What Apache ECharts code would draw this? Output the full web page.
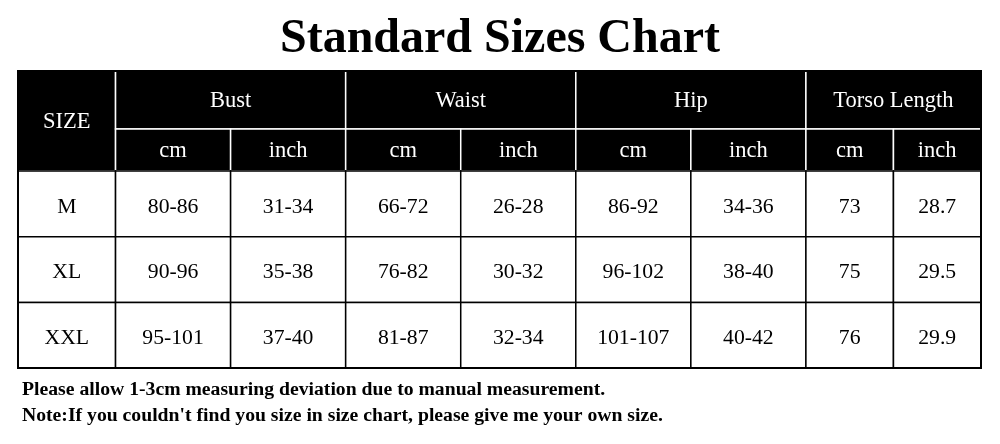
<!DOCTYPE html>
<html>
<head>
<meta charset="utf-8">
<script src="https://cdn.jsdelivr.net/npm/echarts@6/dist/echarts.min.js"></script>
<style>html,body{margin:0;padding:0;background:#fff}#c{width:1000px;height:444px}</style>
</head>
<body>
<div id="c"></div>
<script>
// ---- data ----
const titleText = 'Standard Sizes Chart';
const sizeHeader = 'SIZE';
const groups = ['Bust', 'Waist', 'Hip', 'Torso Length'];
const units = ['cm', 'inch'];
const sizes = ['M', 'XL', 'XXL'];
const bustCm = ['80-86', '90-96', '95-101'];
const bustInch = ['31-34', '35-38', '37-40'];
const waistCm = ['66-72', '76-82', '81-87'];
const waistInch = ['26-28', '30-32', '32-34'];
const hipCm = ['86-92', '96-102', '101-107'];
const hipInch = ['34-36', '38-40', '40-42'];
const torsoCm = ['73', '75', '76'];
const torsoInch = ['28.7', '29.5', '29.9'];
const notes = [
  'Please allow 1-3cm measuring deviation due to manual measurement.',
  "Note:If you couldn't find you size in size chart, please give me your own size."
];

// ---- layout (axis units) ----
const colWidths = [97.5, 115, 115, 115, 115, 115, 115, 87.5, 87.5];
const rowHeights = [58, 42, 65.7, 65.7, 65.6];
const colEdges = [0]; colWidths.forEach(w => colEdges.push(colEdges[colEdges.length - 1] + w));
const rowEdges = [0]; rowHeights.forEach(h => rowEdges.push(rowEdges[rowEdges.length - 1] + h));

const dataCols = [sizes, bustCm, bustInch, waistCm, waistInch, hipCm, hipInch, torsoCm, torsoInch];

// cells: [c0, c1, r0, r1, kind]  kind 0 = header, 1 = body, 2 = border
const cells = [];
const texts = [];
function addCell(c0, c1, r0, r1, kind, text) {
  cells.push([colEdges[c0], colEdges[c1], rowEdges[r0], rowEdges[r1], kind]);
  texts.push(text);
}
addCell(0, 1, 0, 2, 0, sizeHeader);
groups.forEach((g, i) => {
  addCell(1 + i * 2, 3 + i * 2, 0, 1, 0, g);
  units.forEach((u, j) => addCell(1 + i * 2 + j, 2 + i * 2 + j, 1, 2, 0, u));
});
dataCols.forEach((col, ci) => {
  col.forEach((v, ri) => addCell(ci, ci + 1, 2 + ri, 3 + ri, 1, v));
});
addCell(0, colEdges.length - 1, 0, rowEdges.length - 1, 2, '');

const chart = echarts.init(document.getElementById('c'));
chart.setOption({
  animation: false,
  backgroundColor: '#ffffff',
  title: [
    { text: titleText, left: 'center', top: 16, padding: 0,
      textStyle: { fontFamily: 'Liberation Serif', fontWeight: 'bold', fontSize: 48, color: '#000' } },
    { text: notes[0], left: 22, top: 380, padding: 0,
      textStyle: { fontFamily: 'Liberation Serif', fontWeight: 'bold', fontSize: 19.7, color: '#000' } },
    { text: notes[1], left: 22, top: 406, padding: 0,
      textStyle: { fontFamily: 'Liberation Serif', fontWeight: 'bold', fontSize: 19.7, color: '#000' } }
  ],
  grid: { left: 18, right: 19, top: 71, bottom: 76 },
  xAxis: { type: 'value', min: 0, max: colEdges[colEdges.length - 1], show: false },
  yAxis: { type: 'value', min: 0, max: rowEdges[rowEdges.length - 1], inverse: true, show: false },
  series: [{
    type: 'custom',
    silent: true,
    data: cells,
    renderItem: function (params, api) {
      const x0 = api.value(0), x1 = api.value(1), y0 = api.value(2), y1 = api.value(3), kind = api.value(4);
      const p0 = api.coord([x0, y0]);
      const p1 = api.coord([x1, y1]);
      const w = p1[0] - p0[0], h = p1[1] - p0[1];
      if (kind === 2) {
        return { type: 'rect', shape: { x: p0[0], y: p0[1], width: w, height: h },
          style: { fill: 'none', stroke: '#000', lineWidth: 2 } };
      }
      const header = kind === 0;
      return {
        type: 'group',
        children: [
          { type: 'rect', shape: { x: p0[0], y: p0[1], width: w, height: h },
            style: { fill: header ? '#000' : '#fff', stroke: header ? '#fff' : '#000', lineWidth: 1.5 } },
          { type: 'text', style: { text: texts[params.dataIndex], x: p0[0] + w / 2,
            y: p0[1] + h / 2 + (header ? 1.5 : 3),
            align: 'center', verticalAlign: 'middle', fontFamily: 'Liberation Serif',
            fontSize: header ? 22.5 : 21.7, fill: header ? '#fff' : '#000' } }
        ]
      };
    }
  }]
});
</script>
</body>
</html>
